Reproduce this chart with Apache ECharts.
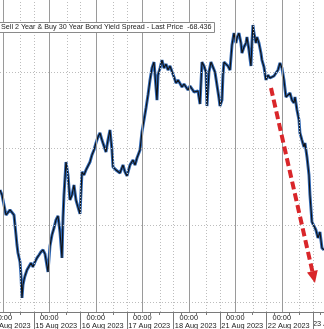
<!DOCTYPE html>
<html><head><meta charset="utf-8">
<script src="https://cdn.jsdelivr.net/npm/echarts@6/dist/echarts.min.js"></script>
<style>html,body{margin:0;padding:0;background:#fff}#c{width:324px;height:329px}</style>
</head><body><div id="c"></div>
<script>
// x = trading-day index (0 = 14 Aug 2023 00:00, weekend skipped), y = spread (bp)
const dayLabels = ['14 Aug 2023','15 Aug 2023','16 Aug 2023','17 Aug 2023','18 Aug 2023','21 Aug 2023','22 Aug 2023','23 Aug 2023'];
const timeLabel = '00:00';
const xDays = [-0.060,-0.017,0.026,0.069,0.112,0.155,0.198,0.241,0.284,0.305,0.327,0.370,0.391,0.413,0.434,0.456,0.477,0.520,0.563,0.606,0.649,0.692,0.735,0.778,0.821,0.865,0.908,0.951,0.972,1.015,1.058,1.101,1.144,1.187,1.230,1.273,1.295,1.316,1.359,1.402,1.445,1.488,1.531,1.574,1.617,1.660,1.703,1.746,1.789,1.832,1.875,1.918,1.961,2.004,2.047,2.090,2.133,2.176,2.219,2.262,2.305,2.348,2.370,2.434,2.477,2.520,2.585,2.628,2.671,2.735,2.800,2.843,2.886,2.951,2.993,3.037,3.080,3.123,3.166,3.209,3.252,3.295,3.316,3.338,3.381,3.424,3.467,3.510,3.553,3.596,3.639,3.682,3.725,3.768,3.811,3.854,3.897,3.940,3.983,4.026,4.069,4.112,4.155,4.198,4.241,4.284,4.327,4.370,4.391,4.434,4.477,4.520,4.563,4.606,4.649,4.671,4.714,4.735,4.757,4.800,4.843,4.886,4.929,4.972,5.015,5.036,5.079,5.122,5.144,5.187,5.230,5.251,5.294,5.337,5.359,5.380,5.402,5.445,5.466,5.509,5.552,5.574,5.617,5.660,5.703,5.746,5.789,5.832,5.875,5.918,5.961,6.004,6.047,6.090,6.133,6.176,6.219,6.262,6.284,6.327,6.370,6.391,6.434,6.477,6.499,6.542,6.585,6.606,6.649,6.692,6.735,6.778,6.821,6.864,6.907];
const spread = [-57.70,-58.02,-58.68,-59.33,-59.46,-59.00,-58.87,-59.33,-60.63,-61.29,-61.81,-62.39,-63.24,-64.74,-63.89,-63.57,-63.31,-62.92,-63.05,-62.46,-62.72,-62.39,-62.13,-61.94,-61.74,-61.61,-61.87,-61.74,-63.05,-61.35,-60.63,-60.18,-59.65,-59.39,-60.44,-62.13,-59.52,-58.02,-55.87,-56.72,-58.35,-58.02,-57.37,-58.35,-58.81,-59.26,-56.52,-56.72,-56.39,-56.26,-55.87,-55.41,-55.09,-54.63,-54.24,-53.98,-54.44,-54.83,-55.22,-54.44,-53.78,-55.09,-56.20,-56.39,-56.26,-56.59,-56.07,-56.52,-56.78,-56.07,-55.74,-56.07,-55.61,-55.09,-53.91,-53.13,-52.35,-51.50,-50.52,-49.74,-49.35,-49.22,-51.83,-50.20,-49.74,-49.22,-49.74,-49.48,-49.87,-49.61,-49.74,-50.33,-50.72,-50.52,-50.65,-50.98,-50.78,-50.72,-51.17,-50.91,-51.04,-51.30,-51.17,-51.24,-52.09,-49.35,-49.61,-50.00,-52.22,-50.00,-49.35,-49.22,-50.00,-50.85,-51.70,-52.22,-51.83,-50.20,-49.35,-49.41,-49.61,-49.87,-48.24,-47.46,-48.11,-47.78,-47.46,-48.11,-48.76,-48.37,-48.11,-47.72,-48.56,-49.61,-48.04,-46.93,-47.46,-48.11,-47.72,-48.11,-48.76,-49.22,-49.67,-50.52,-50.20,-50.39,-50.33,-50.26,-50.13,-49.87,-49.41,-49.74,-50.52,-51.63,-51.70,-51.37,-51.83,-52.02,-51.63,-52.48,-53.13,-53.98,-54.44,-54.89,-54.63,-55.54,-56.72,-58.02,-59.78,-60.05,-60.31,-60.83,-60.44,-61.48,-61.61];
const hGrid = [-50,-55,-60,-65];
const dayStarts = [0,1,2,3,4,5,6];
const dateLabelPos = [0.15,1.15,2.15,3.15,4.15,5.15,6.15];
const sessionMarks = [0.375,0.667,1.375,1.667,2.375,2.667,3.375,3.667,4.375,4.667,5.375,5.667,6.375,6.667];
const tallTicks = [0.667,1.667,2.667,3.667,4.667,5.667,6.667];
const smallTicks = [0.167,0.375,0.833,1.167,1.375,1.833,2.167,2.375,2.833,3.167,3.375,3.833,4.167,4.375,4.833,5.167,5.375,5.833,6.167,6.375,6.833];
const arrowStart = [5.768,-51.04];
const arrowEnd = [6.686,-63.38];
const legendText = 'Sell 2 Year & Buy 30 Year Bond Yield Spread - Last Price  -68.436';

const xMin = -0.060, xMax = 6.908, yMin = -65.66, yMax = -45.30;
const pts = xDays.map((x,i)=>[x,spread[i]]);
const chart = echarts.init(document.getElementById('c'), null, {renderer:'canvas'});
const font = 'Liberation Sans';
const fs = 7.2;
const axFs = 7.4;
chart.setOption({
  animation:false,
  backgroundColor:'#ffffff',
  grid:{left:0,right:0,top:0,bottom:17,containLabel:false,outerBoundsMode:'none'},
  title:{text:legendText,left:-4,top:22,padding:[2,3,2,5],backgroundColor:'#fff',borderColor:'#8a8a8a',borderWidth:1,
    textStyle:{fontFamily:font,fontSize:fs,fontWeight:'normal',color:'#222'}},
  graphic:[{type:'text',left:313,top:320,silent:true,style:{text:dayLabels[7],fontFamily:font,fontSize:axFs,fill:'#1a1a1a'}}],
  xAxis:[{type:'value',min:xMin,max:xMax,position:'bottom',
    axisLine:{show:true,lineStyle:{color:'#7a7a7a',width:1}},
    axisTick:{show:true,customValues:tallTicks,length:17,inside:false,lineStyle:{color:'#7a7a7a'}},
    axisLabel:{show:true,customValues:dayStarts,showMinLabel:true,showMaxLabel:true,hideOverlap:false,margin:1,
      formatter:()=>timeLabel,fontFamily:font,fontSize:axFs,color:'#1a1a1a',lineHeight:9},
    splitLine:{show:false}},
   {type:'value',min:xMin,max:xMax,position:'bottom',
    axisLine:{show:false},axisTick:{show:true,customValues:smallTicks,length:3,lineStyle:{color:'#7a7a7a'}},
    axisLabel:{show:true,customValues:dateLabelPos,showMinLabel:true,showMaxLabel:true,hideOverlap:false,margin:9.5,
      formatter:v=>dayLabels[Math.floor(v)],fontFamily:font,fontSize:axFs,color:'#1a1a1a',lineHeight:9},
    splitLine:{show:false}}],
  yAxis:{type:'value',min:yMin,max:yMax,show:false,splitLine:{show:false}},
  series:[
    {type:'line',data:[],silent:true,markLine:{silent:true,symbol:['none','none'],label:{show:false},animation:false,
      lineStyle:{color:'#bdbdbd',width:1,type:[1,2]},
      data:hGrid.map(v=>({yAxis:v})).concat(sessionMarks.map(v=>({xAxis:v})))}},
    {type:'line',data:[],silent:true,markLine:{silent:true,symbol:['none','none'],label:{show:false},animation:false,
      lineStyle:{color:'#9a9a9a',width:1,type:'solid'},
      data:dayStarts.map(v=>({xAxis:v}))}},
    {type:'line',data:pts,showSymbol:false,symbol:'none',lineStyle:{color:'#3068b5',width:3},z:3},
    {type:'line',data:pts,showSymbol:false,symbol:'none',lineStyle:{color:'#111',width:1.1},z:4},
    {type:'line',data:[],silent:true,z:5,markLine:{silent:true,symbol:['none','triangle'],symbolSize:[11,12],label:{show:false},animation:false,
      lineStyle:{color:'#d9262a',width:4,type:[8,4]},
      data:[[{coord:arrowStart},{coord:arrowEnd}]]}}
  ]
});
</script></body></html>
